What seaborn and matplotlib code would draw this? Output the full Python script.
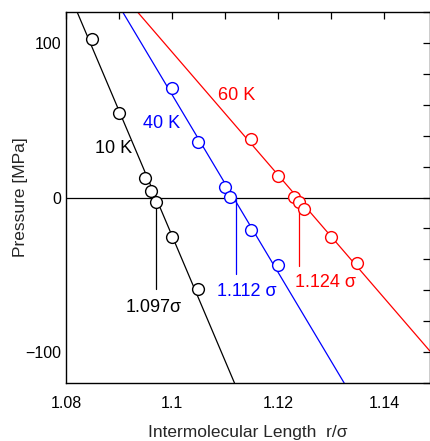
import matplotlib
matplotlib.use("Agg")
import matplotlib.pyplot as plt
import seaborn as sns
import pandas as pd

# data
x10 = [1.085, 1.090, 1.095, 1.096, 1.097, 1.100, 1.105]
y10 = [102.4, 54.4, 12.5, 4.5, -3.0, -25.5, -59.0]
x40 = [1.100, 1.105, 1.110, 1.111, 1.115, 1.120]
y40 = [70.6, 35.7, 6.5, 0.6, -20.8, -43.6]
x60 = [1.115, 1.120, 1.123, 1.124, 1.125, 1.130, 1.135]
y60 = [37.7, 14.2, 0.6, -3.2, -7.3, -25.5, -42.3]

# fitted lines (end points)
fit10_x = [1.0821, 1.1118]
fit10_y = [120, -120]
fit40_x = [1.0907, 1.1325]
fit40_y = [120, -120]
fit60_x = [1.0935, 1.1487]
fit60_y = [120, -99.4]

# zero-crossing markers
cross_x = [1.097, 1.112, 1.124]
cross_top = [-3.0, 0.6, -9.0]
cross_bot = [-59.5, -49.4, -44.5]
cross_labels = ["1.097σ", "1.112 σ", "1.124 σ"]
temp_labels = ["10 K", "40 K", "60 K"]
colors = ["black", "#0000ff", "#ff0000"]

sns.set_theme(style="white")
plt.rcParams["font.family"] = ["Liberation Sans", "DejaVu Sans"]

fig = plt.figure(figsize=(4.30, 4.41), dpi=100)
ax = fig.add_axes([66/430, 58/441, 1 - 66/430, (383-12)/441])

ax.axhline(0, color="black", lw=0.9, zorder=1)

series = [(x10, y10, fit10_x, fit10_y), (x40, y40, fit40_x, fit40_y),
          (x60, y60, fit60_x, fit60_y)]
for (xs, ys, fx, fy), c in zip(series, colors):
    sns.lineplot(x=fx, y=fy, ax=ax, color=c, lw=0.9, zorder=2,
                 estimator=None, sort=False)
    sns.scatterplot(x=xs, y=ys, ax=ax, s=72, facecolor="white",
                    edgecolor=c, linewidth=1.0, zorder=3)

for xc, t, b, c in zip(cross_x, cross_top, cross_bot, colors):
    cross_df = pd.DataFrame({"x": [xc, xc], "y": [t, b]})
    sns.lineplot(data=cross_df, x="x", y="y", ax=ax, color=c, lw=0.9,
                 zorder=2, estimator=None, sort=False)

# labels
fs = 13
ax.text(1.0889, 31.4, temp_labels[0], color=colors[0], fontsize=fs,
        ha="center", va="center")
ax.text(1.0981, 48, temp_labels[1], color=colors[1], fontsize=fs,
        ha="center", va="center")
ax.text(1.1122, 65.8, temp_labels[2], color=colors[2], fontsize=fs,
        ha="center", va="center")
ax.text(1.0966, -71, cross_labels[0], color=colors[0], fontsize=fs,
        ha="center", va="center")
ax.text(1.1141, -61, cross_labels[1], color=colors[1], fontsize=fs,
        ha="center", va="center")
ax.text(1.1290, -55, cross_labels[2], color=colors[2], fontsize=fs,
        ha="center", va="center")

ax.set_xlim(1.08, 1.1487)
ax.set_ylim(-120, 120)
ax.set_xticks([1.08, 1.09, 1.10, 1.11, 1.12, 1.13, 1.14])
ax.set_xticklabels(["1.08", "", "1.1", "", "1.12", "", "1.14"])
ax.set_yticks([-120, -100, -80, -60, -40, -20, 0, 20, 40, 60, 80, 100, 120])
ax.set_yticklabels(["", "−100", "", "", "", "", "0", "", "", "", "", "100", ""])
ax.tick_params(direction="in", length=5, width=0.9, top=True, right=True,
               labelsize=11.5, colors="black")
ax.tick_params(axis="x", pad=9)
ax.tick_params(axis="y", pad=3.5)
for s in ax.spines.values():
    s.set_color("black")
    s.set_linewidth(1.0)

ax.set_xlabel("Intermolecular Length  r/σ", fontsize=12.5)
ax.set_ylabel("Pressure [MPa]", fontsize=12.5)
ax.xaxis.set_label_coords(0.5, (383 - 425) / 371)
ax.yaxis.set_label_coords((28 - 66) / 364, 0.5)

fig.savefig("out.png", dpi=100)
